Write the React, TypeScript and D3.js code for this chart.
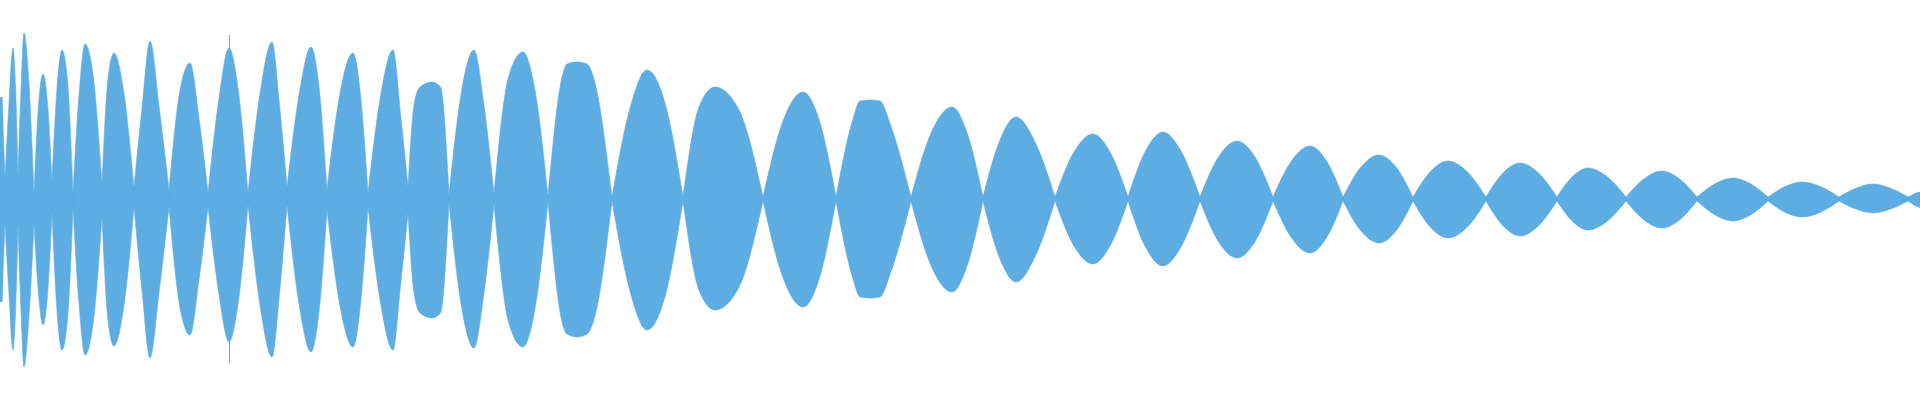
import React from "react";
import * as d3 from "d3";

const WIDTH = 1920;
const HEIGHT = 400;
const COLOR = "#5dade2";

// Frames (audio column index) where the envelope pinches between beats
const nodeFrames = [0, 5, 18, 34, 52, 73, 102, 134, 169, 208, 248, 287, 327, 368, 408, 449, 494, 548, 612, 683, 763, 836, 911, 983, 1055, 1128, 1200, 1273, 1343, 1413, 1486, 1557, 1626, 1697, 1768, 1839, 1908, 1920];
// Residual amplitude at each pinch (positive side / negative side)
const nodeTop = [0.5, 0.1, 0.12, 0.03, 0.08, 0.035, 0.08, 0.06, 0.045, 0.03, 0.03, 0.06, 0.045, 0.03, 0.06, 0.02, 0.025, 0.015, 0.01, 0.01, 0.01, 0.01, 0.01, 0.01, 0.01, 0.01, 0.01, 0.01, 0.01, 0.01, 0.01, 0.01, 0.01, 0.01, 0.01, 0.01, 0.01, 0.035];
const nodeBottom = [0.51, 0.12, 0.13, 0.12, 0.07, 0.045, 0.09, 0.04, 0.04, 0.04, 0.03, 0.03, 0.055, 0.04, 0.07, 0.02, 0.025, 0.015, 0.01, 0.01, 0.01, 0.01, 0.01, 0.01, 0.01, 0.01, 0.01, 0.01, 0.01, 0.01, 0.01, 0.01, 0.01, 0.01, 0.01, 0.01, 0.01, 0.045];

// Peak of each beat lobe
const peakFrames = [2, 13, 24, 43, 62, 85, 114, 150, 190, 229, 272, 311, 353, 393, 432, 474, 523, 577, 647, 715, 803, 870, 952, 1016, 1093, 1163, 1237, 1310, 1379, 1448, 1520, 1588, 1662, 1733, 1802, 1873, 1916];
const peakTop = [0.51, 0.755, 0.83, 0.625, 0.745, 0.775, 0.73, 0.79, 0.68, 0.755, 0.785, 0.76, 0.73, 0.745, 0.585, 0.745, 0.735, 0.685, 0.645, 0.56, 0.535, 0.495, 0.46, 0.41, 0.325, 0.335, 0.29, 0.265, 0.22, 0.19, 0.18, 0.155, 0.14, 0.105, 0.085, 0.075, 0.03];
const peakBottom = [0.515, 0.755, 0.84, 0.63, 0.755, 0.78, 0.735, 0.795, 0.68, 0.715, 0.79, 0.765, 0.74, 0.755, 0.595, 0.745, 0.74, 0.69, 0.655, 0.555, 0.54, 0.495, 0.465, 0.415, 0.325, 0.335, 0.295, 0.27, 0.22, 0.195, 0.185, 0.155, 0.145, 0.11, 0.09, 0.07, 0.035];

// Envelope read halfway between the left pinch and the peak, and between the peak and the right pinch
const midLeft = [0.51, 0.478, 0.553, 0.47, 0.553, 0.52, 0.603, 0.453, 0.53, 0.487, 0.528, 0.52, 0.528, 0.512, 0.56, 0.537, 0.61, 0.62, 0.445, 0.46, 0.39, 0.4, 0.335, 0.29, 0.235, 0.24, 0.21, 0.19, 0.16, 0.138, 0.13, 0.112, 0.101, 0.076, 0.062, 0.054, 0.02];
const midRight = [0.3, 0.57, 0.578, 0.478, 0.595, 0.603, 0.528, 0.445, 0.403, 0.537, 0.47, 0.562, 0.52, 0.428, 0.56, 0.47, 0.53, 0.59, 0.48, 0.445, 0.39, 0.37, 0.325, 0.28, 0.23, 0.235, 0.21, 0.19, 0.16, 0.138, 0.13, 0.112, 0.101, 0.076, 0.062, 0.054, 0.032];

// Extra envelope readings (shoulders / plateaus)
const shoulderFrames = [414, 567, 587, 860, 880];
const shoulderTop = [0.47, 0.675, 0.675, 0.49, 0.49];
const shoulderBottom = [0.47, 0.675, 0.675, 0.49, 0.49];

// Isolated single-column spikes
const spikeFrames = [229];
const spikeTop = [0.82];
const spikeBottom = [0.82];

type Pt = { f: number; top: number; bottom: number };

export default function App() {
  const x = d3.scaleLinear().domain([0, 1920]).range([0, WIDTH]);
  const y = d3.scaleLinear().domain([-1, 1]).range([HEIGHT - 1, -1]);

  const area = d3
    .area<Pt>()
    .x((d) => x(d.f))
    .y0((d) => y(-d.bottom))
    .y1((d) => y(d.top))
    .curve(d3.curveMonotoneX);

  const lobes: Pt[][] = [];
  for (let i = 0; i < peakFrames.length; i++) {
    const s = nodeFrames[i];
    const e = nodeFrames[i + 1];
    const p = peakFrames[i];
    const ratio = peakBottom[i] / peakTop[i];
    const pts: Pt[] = [
      { f: s, top: nodeTop[i], bottom: nodeBottom[i] },
      { f: (s + p) / 2, top: midLeft[i], bottom: midLeft[i] * ratio },
      { f: p, top: peakTop[i], bottom: peakBottom[i] },
      { f: (p + e) / 2, top: midRight[i], bottom: midRight[i] * ratio },
      { f: e, top: nodeTop[i + 1], bottom: nodeBottom[i + 1] },
    ];
    shoulderFrames.forEach((f, k) => {
      if (f > s && f < e) pts.push({ f, top: shoulderTop[k], bottom: shoulderBottom[k] });
    });
    pts.sort((a, b) => a.f - b.f);
    const uniq = pts.filter((q, k) => k === 0 || q.f !== pts[k - 1].f);
    lobes.push(uniq);
  }

  return (
    <svg
      width={WIDTH}
      height={HEIGHT}
      style={{ position: "absolute", left: 0, top: 0, display: "block" }}
    >
      <rect x={0} y={0} width={WIDTH} height={HEIGHT} fill="#ffffff" />
      {lobes.map((pts, i) => (
        <path key={i} d={area(pts) || ""} fill={COLOR} stroke={COLOR} strokeWidth={0.6} />
      ))}
      {spikeFrames.map((f, i) => (
        <rect
          key={"s" + i}
          x={x(f)}
          y={y(spikeTop[i])}
          width={1}
          height={y(-spikeBottom[i]) - y(spikeTop[i])}
          fill={COLOR}
        />
      ))}
    </svg>
  );
}
